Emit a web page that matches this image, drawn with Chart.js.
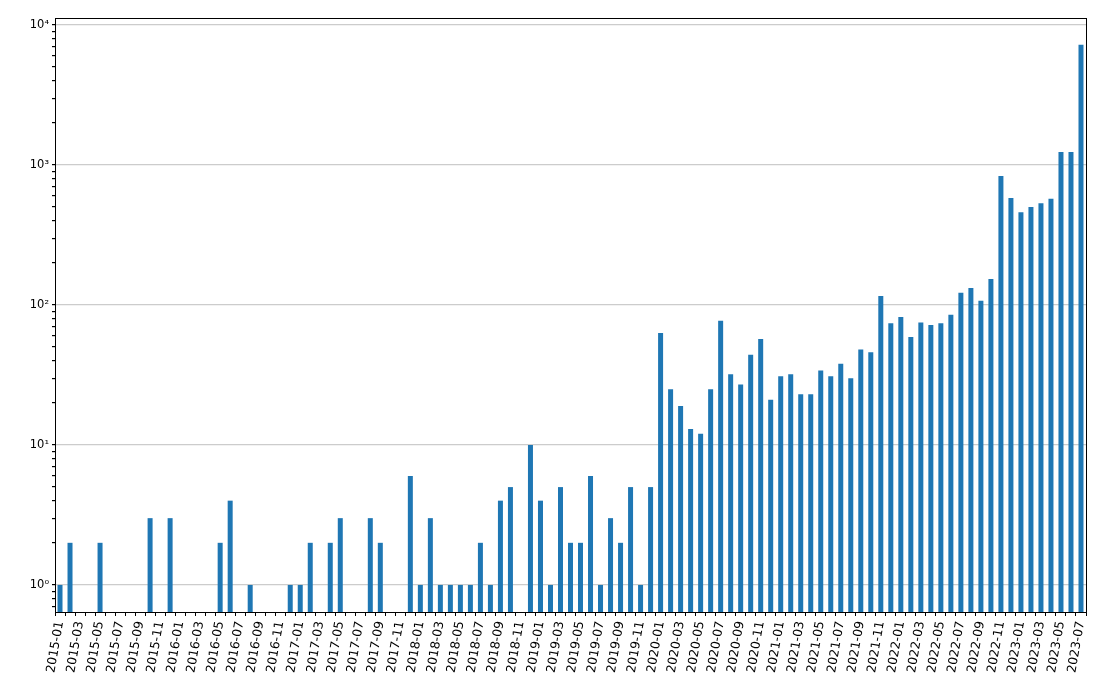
<!DOCTYPE html>
<html>
<head>
<meta charset="utf-8">
<script src="https://cdn.jsdelivr.net/npm/chart.js@4"></script>
<style>
  body { margin: 0; background: #fff; }
  #wrap { width: 1100px; height: 687px; }
</style>
</head>
<body>
<div id="wrap"><canvas id="chart" width="1100" height="687"></canvas></div>
<script>
// monthly categories 2015-01 .. 2023-07
const months = [];
for (let y = 2015; y <= 2023; y++) {
  for (let m = 1; m <= 12; m++) {
    if (y === 2023 && m > 7) break;
    months.push(y + '-' + String(m).padStart(2, '0'));
  }
}

// counts per month (0 = no bar on log axis)
const counts = [
  1, 2, 0, 0, 2, 0, 0, 0, 0, 3, 0, 3,            // 2015
  0, 0, 0, 0, 2, 4, 0, 1, 0, 0, 0, 1,            // 2016
  1, 2, 0, 2, 3, 0, 0, 3, 2, 0, 0, 6,            // 2017
  1, 3, 1, 1, 1, 1, 2, 1, 4, 5, 0, 10,           // 2018
  4, 1, 5, 2, 2, 6, 1, 3, 2, 5, 1, 5,            // 2019
  63, 25, 19, 13, 12, 25, 77, 32, 27, 44, 57, 21, // 2020
  31, 32, 23, 23, 34, 31, 38, 30, 48, 46, 116, 74, // 2021
  82, 59, 75, 72, 74, 85, 122, 132, 107, 153, 834, 581, // 2022
  459, 501, 532, 574, 1238, 1238, 7200            // 2023
];

const yMajor = [1, 10, 100, 1000, 10000];
const supers = ['⁰', '¹', '²', '³', '⁴'];

const frame = {
  id: 'frame',
  afterDraw(chart) {
    const a = chart.chartArea;
    const ctx = chart.ctx;
    ctx.save();
    ctx.strokeStyle = '#000';
    ctx.lineWidth = 1;
    ctx.strokeRect(a.left + 0.5, a.top + 0.5, a.right - a.left, a.bottom - a.top);
    ctx.restore();
  }
};

new Chart(document.getElementById('chart').getContext('2d'), {
  type: 'bar',
  data: {
    labels: months,
    datasets: [{
      data: counts.map(v => v > 0 ? v : null),
      backgroundColor: '#1f77b4',
      barPercentage: 0.5,
      categoryPercentage: 1.0
    }]
  },
  options: {
    responsive: false,
    animation: false,
    layout: { padding: { top: 18, right: 14, left: 0, bottom: 0 } },
    plugins: { legend: { display: false }, tooltip: { enabled: false } },
    scales: {
      x: {
        grid: { display: true, drawOnChartArea: false, tickLength: 4, tickColor: '#000' },
        border: { color: '#000' },
        ticks: {
          autoSkip: false,
          minRotation: 80,
          maxRotation: 80,
          padding: 4,
          color: '#000',
          font: { family: 'DejaVu Sans', size: 12.5 },
          callback: (v, i) => i % 2 === 0 ? months[i] : ''
        },
        afterFit: s => { s.height = 75; }
      },
      y: {
        type: 'logarithmic',
        bounds: 'data',
        min: 0.641,
        max: 11200,
        afterBuildTicks: s => {
          const t = [];
          for (let d = 0; d < 5; d++) {
            for (let k = 1; k <= 9; k++) {
              const v = k * Math.pow(10, d - 1);
              if (v >= 0.641 && v <= 11200) t.push({ value: v });
            }
          }
          t.push({ value: 10000 });
          s.ticks = t;
          s.min = 0.641;
          s.max = 11200;
        },
        grid: {
          color: c => yMajor.includes(c.tick && c.tick.value) ? '#cccccc' : 'rgba(0,0,0,0)',
          lineWidth: 1.2,
          tickColor: '#000',
          tickLength: 3
        },
        border: { color: '#000' },
        ticks: {
          autoSkip: false,
          color: '#000',
          padding: 3,
          font: { family: 'DejaVu Sans', size: 11.5 },
          callback: v => {
            const i = yMajor.indexOf(v);
            return i >= 0 ? '10' + supers[i] : '';
          }
        },
        afterFit: s => { s.width = 55; }
      }
    }
  },
  plugins: [frame]
});
</script>
</body>
</html>
